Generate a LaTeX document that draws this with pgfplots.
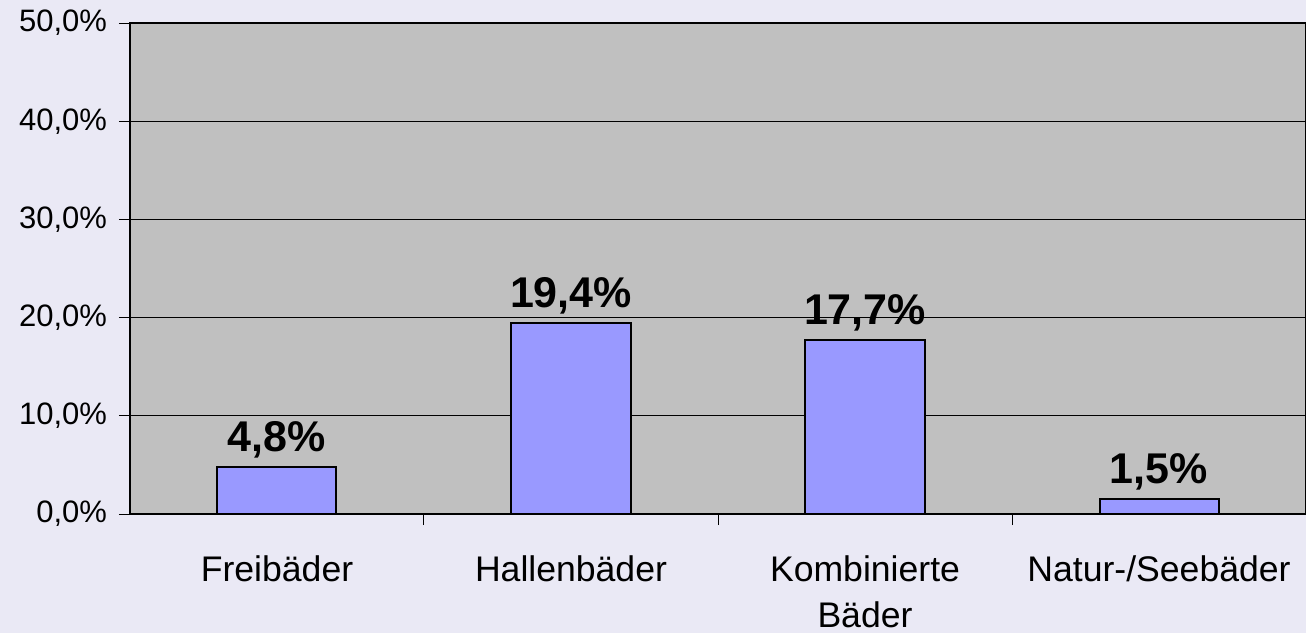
\documentclass[border=0pt]{standalone}
\usepackage{pgfplots}
\pgfplotsset{compat=1.18}
\usepackage{fontspec}
\setmainfont{Liberation Sans}
\definecolor{pagebg}{HTML}{EAE9F5}
\definecolor{plotbg}{HTML}{C0C0C0}
\definecolor{barfill}{HTML}{9999FF}
\begin{document}
\begin{tikzpicture}
% page background, 1px = 0.5pt
\fill[pagebg] (-65pt,-59.5pt) rectangle (588pt,257pt);
\useasboundingbox (-65pt,-59.5pt) rectangle (588pt,257pt);
\begin{axis}[at={(0,0)}, anchor=south west, scale only axis,
  width=588pt, height=245.5pt,
  axis background/.style={fill=plotbg},
  ybar, bar width=59.5pt,
  xmin=0.5, xmax=4.5, ymin=0, ymax=50,
  ytick={0,10,...,50},
  ymajorgrids, grid style={black, line width=0.5pt},
  axis line style={black, line width=0.6pt},
  tick pos=left,
  tick align=outside, major tick length=5.5pt,
  tick style={black, line width=0.5pt},
  /pgf/number format/assume math mode=true,
  yticklabel={\pgfmathprintnumber[fixed,fixed zerofill,precision=1,use comma]{\tick}\%},
  yticklabel style={font=\fontsize{15.5}{18}\selectfont, xshift=-2.5pt},
  xtick={1,2,3,4},
  xticklabels={Freibäder,Hallenbäder,{Kombinierte\\Bäder},Natur-/Seebäder},
  xticklabel style={font=\fontsize{17.8}{23}\selectfont, align=center, yshift=-12pt},
  xtick style={draw=none},
  extra x ticks={1.5,2.5,3.5},
  extra x tick labels={},
  extra x tick style={grid=none, xtick style={draw=black}},
  nodes near coords={\pgfmathprintnumber[fixed,fixed zerofill,precision=1,use comma]{\pgfplotspointmeta}\%},
  every node near coord/.append style={font=\fontsize{21.5}{24}\selectfont\bfseries, black, inner sep=2pt, yshift=2pt},
]
\addplot[fill=barfill, draw=black, line width=1pt] coordinates {
  (1,4.8) (2,19.4) (3,17.7) (4,1.5)};
\end{axis}
\end{tikzpicture}
\end{document}
